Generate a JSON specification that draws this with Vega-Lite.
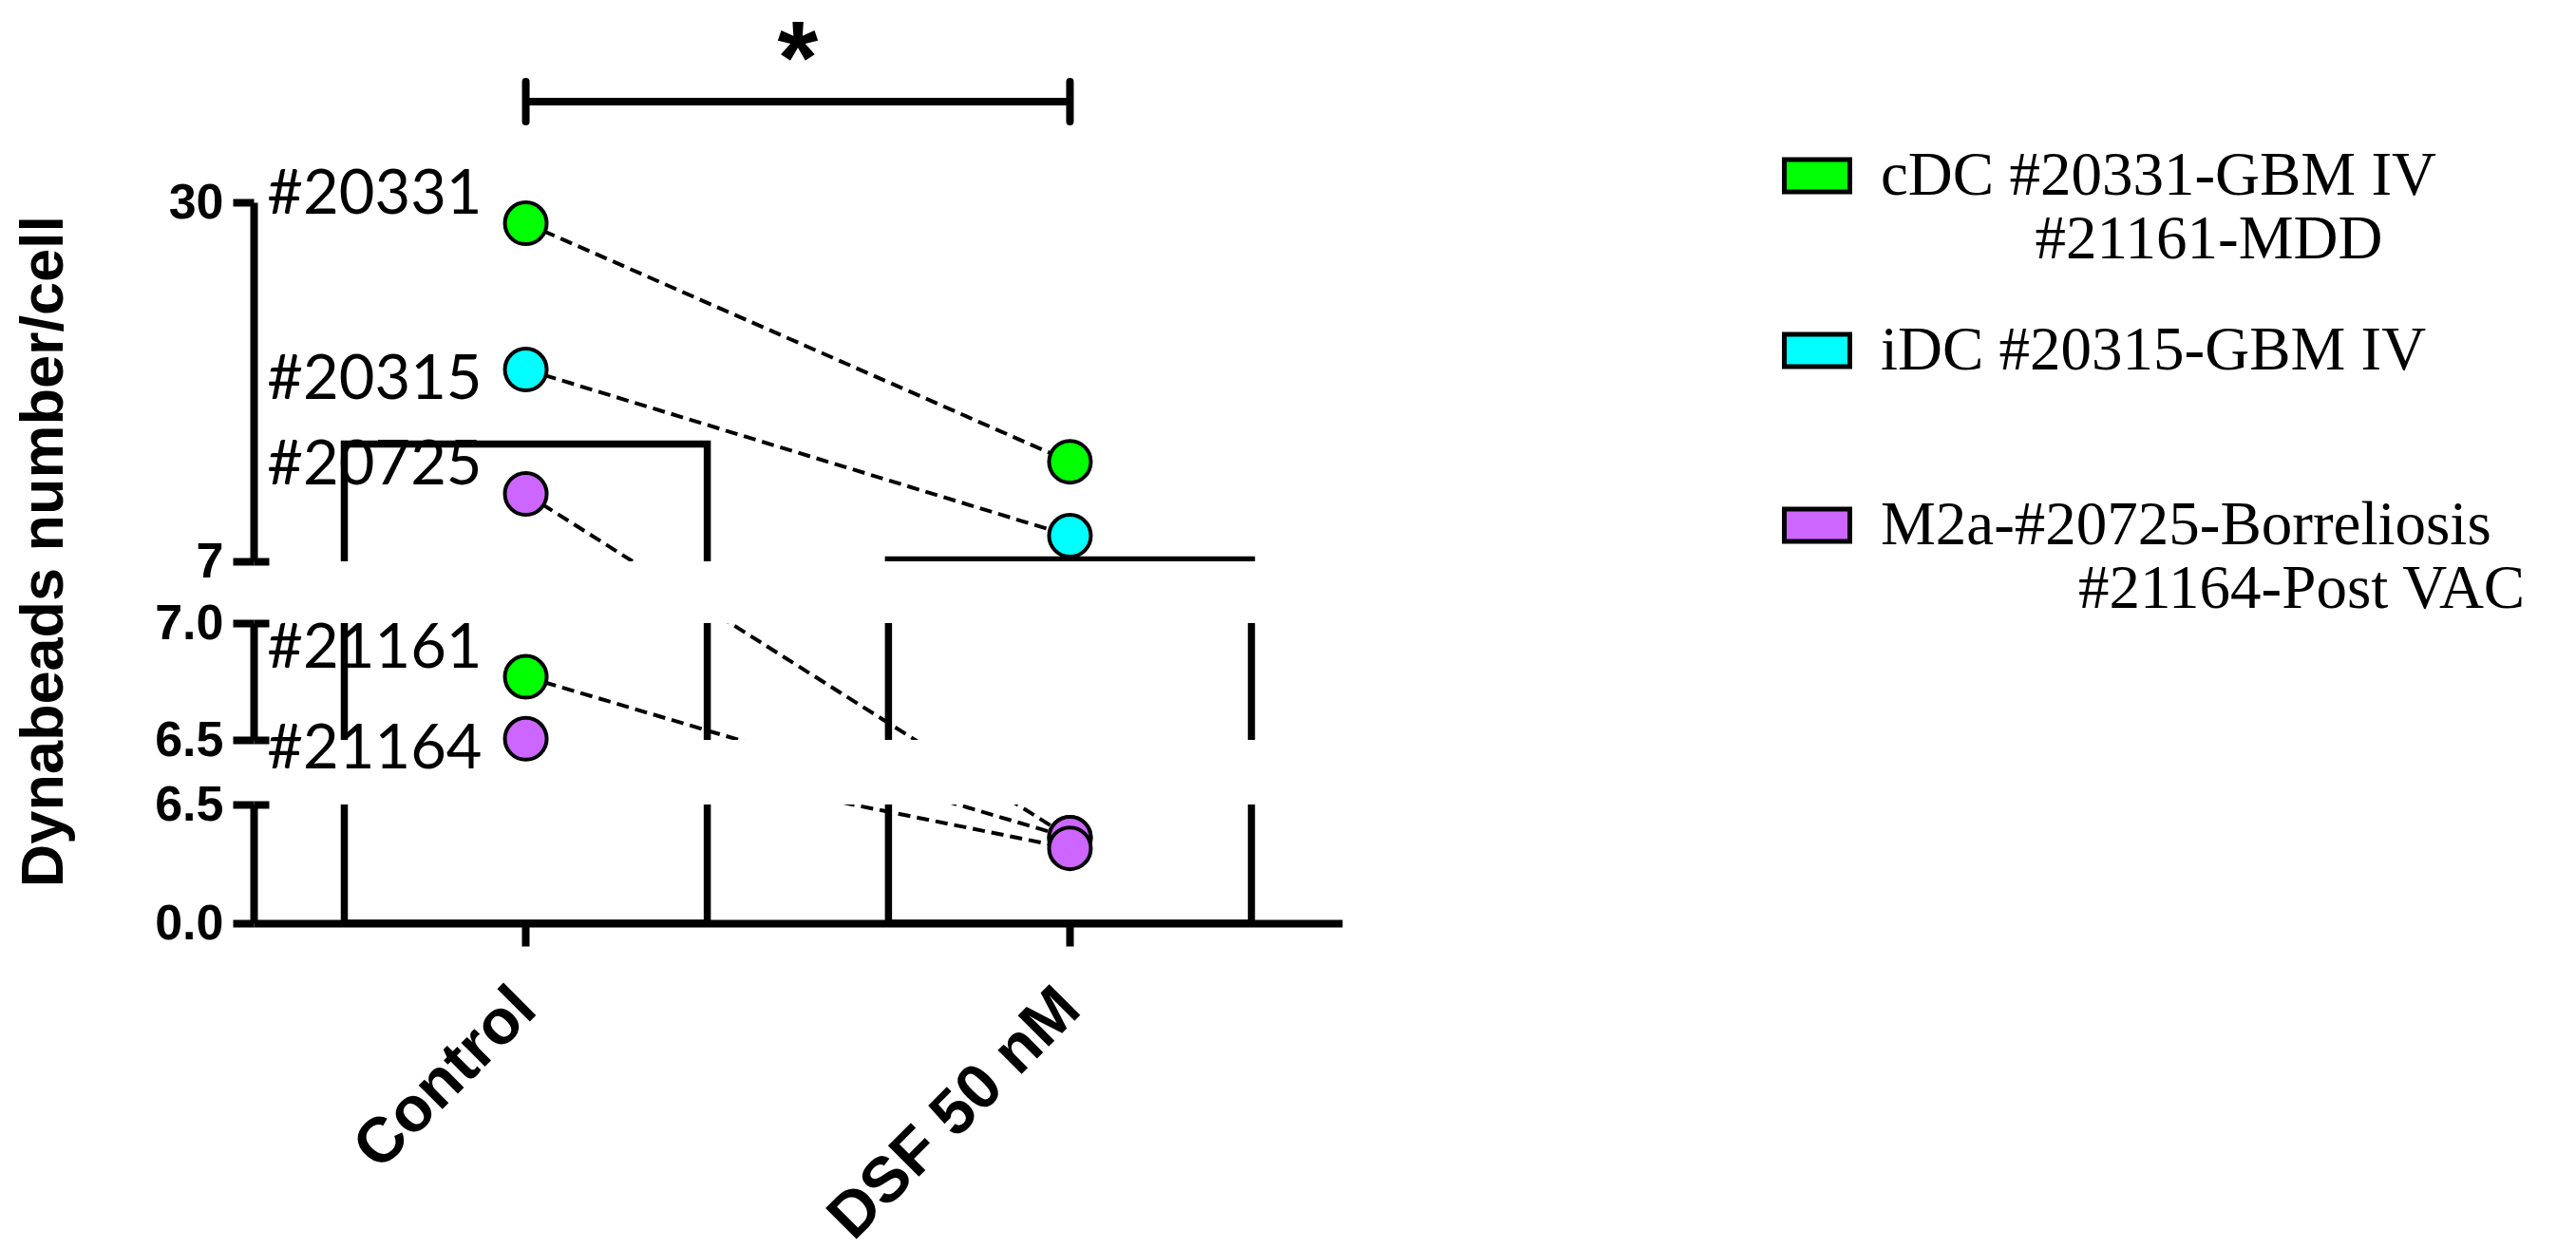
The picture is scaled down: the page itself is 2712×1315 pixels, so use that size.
{
  "$schema": "https://vega.github.io/schema/vega-lite/v6.json",
  "width": 1146,
  "height": 972,
  "autosize": {"type": "none"},
  "padding": {"left": 267, "top": 0, "right": 1299, "bottom": 343},
  "background": "white",
  "config": {"view": {"stroke": null}, "font": "Liberation Sans"},
  "datasets": {
    "pts": [
      {"subject": "#20331", "group": "cDC #20331-GBM IV|\u200b\u2003\u2003\u2002#21161-MDD", "condition": "Control", "value": 28.66},
      {"subject": "#20331", "group": "cDC #20331-GBM IV|\u200b\u2003\u2003\u2002#21161-MDD", "condition": "DSF 50 nM", "value": 13.38},
      {"subject": "#20315", "group": "iDC #20315-GBM IV|\u200b", "condition": "Control", "value": 19.29},
      {"subject": "#20315", "group": "iDC #20315-GBM IV|\u200b", "condition": "DSF 50 nM", "value": 8.64},
      {"subject": "#21161", "group": "cDC #20331-GBM IV|\u200b\u2003\u2003\u2002#21161-MDD", "condition": "Control", "value": 6.77},
      {"subject": "#21161", "group": "cDC #20331-GBM IV|\u200b\u2003\u2003\u2002#21161-MDD", "condition": "DSF 50 nM", "value": 4.68},
      {"subject": "#20725", "group": "M2a-#20725-Borreliosis|\u200b\u2003\u2003\u2003\u2009#21164-Post VAC", "condition": "Control", "value": 11.32},
      {"subject": "#20725", "group": "M2a-#20725-Borreliosis|\u200b\u2003\u2003\u2003\u2009#21164-Post VAC", "condition": "DSF 50 nM", "value": 4.68},
      {"subject": "#21164", "group": "M2a-#20725-Borreliosis|\u200b\u2003\u2003\u2003\u2009#21164-Post VAC", "condition": "Control", "value": 6.505},
      {"subject": "#21164", "group": "M2a-#20725-Borreliosis|\u200b\u2003\u2003\u2003\u2009#21164-Post VAC", "condition": "DSF 50 nM", "value": 4.1}
    ],
    "breaks": [
      {"from": 6.4999, "to": 6.5},
      {"from": 6.9999, "to": 7}
    ],
    "sig": [
      {"start": "Control", "end": "DSF 50 nM", "y": 36.45, "star": 37.0, "label": "*"}
    ],
    "sigTicks": [
      {"condition": "Control", "lo": 35.17, "hi": 37.73},
      {"condition": "DSF 50 nM", "lo": 35.17, "hi": 37.73}
    ]
  },
  "layer": [
    {
      "data": {"name": "pts"},
      "mark": {"type": "bar", "filled": false, "color": "black", "strokeWidth": 7.5},
      "encoding": {
        "x": {
          "field": "condition", "type": "nominal", "sort": null,
          "scale": {"domain": ["Control", "DSF 50 nM"], "paddingInner": 0.333, "paddingOuter": 0.1667},
          "axis": {
            "title": null, "labelAngle": -45, "labelAlign": "right", "labelBaseline": "middle",
            "labelFont": "Liberation Sans", "labelFontWeight": "bold", "labelFontSize": 67, "labelColor": "black",
            "labelPadding": 55, "labelLimit": 1000, "tickSize": 24, "tickWidth": 8, "tickColor": "black",
            "domainColor": "black", "domainWidth": 8, "grid": false
          }
        },
        "y": {
          "aggregate": "mean", "field": "value", "type": "quantitative",
          "scale": {"domain": [0, 6.5, 6.5, 7, 7, 45], "range": [972, 847, 779, 656, 591, -33.5], "nice": false, "zero": false},
          "axis": {
            "values": [0, 6.4999, 6.5, 6.9999, 7, 30],
            "labelExpr": "datum.value == 30 ? '30' : datum.value == 7 ? '7' : format(datum.value, '.1f')",
            "title": "Dynabeads number/cell", "titleFont": "Liberation Sans", "titleFontWeight": "bold",
            "titleFontSize": 63, "titleColor": "black", "titleY": 580, "titlePadding": 84,
            "labelFont": "Liberation Sans", "labelFontWeight": "bold", "labelFontSize": 52, "labelColor": "black",
            "labelPadding": 10, "labelOverlap": false, "labelFlush": false, "labelLimit": 1000,
            "tickSize": 22, "tickWidth": 8, "tickColor": "black",
            "domain": true, "domainColor": "black", "domainWidth": 8, "domainDash": [125, 68, 123, 65, 378, 600],
            "grid": true, "gridColor": "black", "gridWidth": 8, "gridDash": [16, 5000],
            "gridOpacity": {"condition": {"test": "datum.value == 0 || datum.value == 30", "value": 0}, "value": 1},
            "zindex": 1
          }
        }
      }
    },
    {
      "data": {"name": "pts"},
      "mark": {"type": "line", "color": "black", "strokeWidth": 4, "strokeDash": [13, 7]},
      "encoding": {
        "x": {"field": "condition", "type": "nominal", "sort": null},
        "y": {"field": "value", "type": "quantitative"},
        "detail": {"field": "subject"}
      }
    },
    {
      "data": {"name": "breaks"},
      "mark": {"type": "rect", "color": "white"},
      "encoding": {
        "y": {"field": "from", "type": "quantitative"},
        "y2": {"field": "to"}
      }
    },
    {
      "data": {"name": "pts"},
      "mark": {"type": "circle", "size": 1936, "stroke": "black", "strokeWidth": 4, "opacity": 1},
      "encoding": {
        "x": {"field": "condition", "type": "nominal", "sort": null},
        "y": {"field": "value", "type": "quantitative"},
        "fill": {
          "field": "group", "type": "nominal",
          "scale": {
            "domain": [
              "cDC #20331-GBM IV|\u200b\u2003\u2003\u2002#21161-MDD",
              "iDC #20315-GBM IV|\u200b",
              "M2a-#20725-Borreliosis|\u200b\u2003\u2003\u2003\u2009#21164-Post VAC"
            ],
            "range": ["#00ff00", "#00ffff", "#cc66ff"]
          },
          "legend": {
            "orient": "none", "legendX": 1609, "legendY": 148, "title": null,
            "symbolType": "M-1,-0.49H1V0.49H-1Z", "symbolSize": 4761,
            "symbolStrokeColor": "black", "symbolStrokeWidth": 5, "symbolOpacity": 1,
            "labelFont": "Liberation Serif", "labelFontSize": 65, "labelColor": "black",
            "labelOffset": 30, "labelLimit": 2000, "rowPadding": 47,
            "labelExpr": "split(datum.label, '|')"
          }
        }
      }
    },
    {
      "data": {"name": "pts"},
      "transform": [
        {"filter": {"field": "condition", "equal": "Control"}},
        {"filter": {"field": "subject", "oneOf": ["#20331", "#20725", "#21161"]}}
      ],
      "mark": {"type": "text", "font": "Lato", "fontSize": 65, "color": "black", "align": "right", "baseline": "middle", "dx": -46, "dy": -30},
      "encoding": {
        "x": {"field": "condition", "type": "nominal", "sort": null},
        "y": {"field": "value", "type": "quantitative"},
        "text": {"field": "subject"}
      }
    },
    {
      "data": {"name": "pts"},
      "transform": [
        {"filter": {"field": "condition", "equal": "Control"}},
        {"filter": {"field": "subject", "oneOf": ["#20315", "#21164"]}}
      ],
      "mark": {"type": "text", "font": "Lato", "fontSize": 65, "color": "black", "align": "right", "baseline": "middle", "dx": -46, "dy": 11},
      "encoding": {
        "x": {"field": "condition", "type": "nominal", "sort": null},
        "y": {"field": "value", "type": "quantitative"},
        "text": {"field": "subject"}
      }
    },
    {
      "data": {"name": "sig"},
      "mark": {"type": "rule", "color": "black", "strokeWidth": 8},
      "encoding": {
        "x": {"field": "start", "type": "nominal"},
        "x2": {"field": "end"},
        "y": {"field": "y", "type": "quantitative"}
      }
    },
    {
      "data": {"name": "sigTicks"},
      "mark": {"type": "rule", "color": "black", "strokeWidth": 8, "strokeCap": "round"},
      "encoding": {
        "x": {"field": "condition", "type": "nominal"},
        "y": {"field": "lo", "type": "quantitative"},
        "y2": {"field": "hi"}
      }
    },
    {
      "data": {"name": "sig"},
      "mark": {"type": "text", "font": "Liberation Sans", "fontWeight": "bold", "fontSize": 110, "color": "black", "baseline": "alphabetic", "align": "center"},
      "encoding": {
        "y": {"field": "star", "type": "quantitative"},
        "text": {"field": "label"}
      }
    }
  ]
}
